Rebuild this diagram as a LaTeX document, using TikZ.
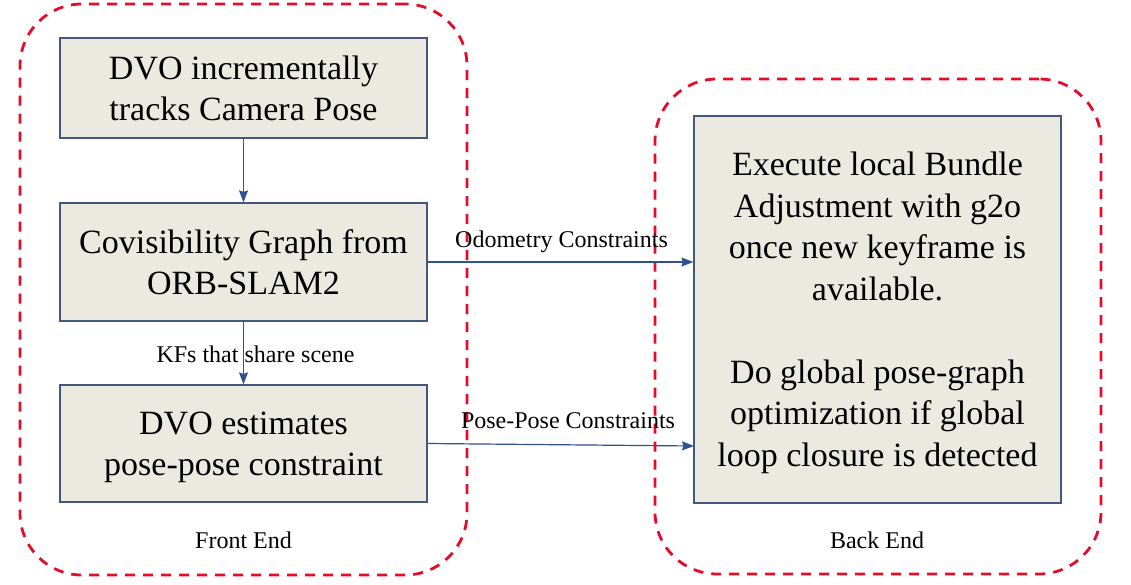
\documentclass[tikz,border=0pt]{standalone}
\usepackage{fontspec}
\setmainfont{Liberation Serif}
\usetikzlibrary{arrows.meta}
\definecolor{boxfill}{RGB}{236,233,224}
\definecolor{boxline}{RGB}{68,88,125}
\definecolor{arrowc}{RGB}{47,82,143}
\definecolor{dashred}{RGB}{228,12,40}
\newcommand\topstrut{\rule{0pt}{30pt}}
\newcommand\botstrut{\rule[-6pt]{0pt}{0pt}}
\begin{document}
\begin{tikzpicture}[x=1pt,y=-1pt,
  procbox/.style={draw=boxline, line width=1.2pt, fill=boxfill, inner sep=0pt,
    align=center, font=\fontsize{34}{41.5}\selectfont},
  groupbox/.style={draw=dashred, line width=2.8pt, dash pattern=on 10pt off 8pt,
    rounded corners=62pt, inner sep=0pt},
  lbl/.style={inner sep=0pt, font=\fontsize{24}{28.8}\selectfont, anchor=base},
  conn/.style={draw=arrowc, line width=1.2pt, -{Stealth[length=12pt,width=9pt,inset=1.5pt]}}
]
\useasboundingbox (0,0) rectangle (1131,584);
\fill[white] (0,0) rectangle (1131,584);

% group regions
\node[groupbox, minimum width=447pt, minimum height=571pt] (front) at (243.5,289.5) {};
\node[groupbox, minimum width=446pt, minimum height=495pt] (back) at (878,326.5) {};

% process boxes
\node[procbox, minimum width=367pt, minimum height=100pt] (b1) at (243.5,88)
  {\topstrut DVO incrementally\\tracks Camera Pose\botstrut};
\node[procbox, minimum width=367pt, minimum height=118pt] (b2) at (243.5,262)
  {\topstrut Covisibility Graph from\\ORB-SLAM2\botstrut};
\node[procbox, minimum width=367pt, minimum height=117pt] (b3) at (243.5,443.5)
  {\topstrut DVO estimates\\pose-pose constraint\botstrut};
\node[procbox, minimum width=367pt, minimum height=387pt] (b4) at (877.5,309.5)
  {\topstrut Execute local Bundle\\Adjustment with g2o\\once new keyframe is\\available.\\\mbox{}\\Do global pose-graph\\optimization if global\\loop closure is detected\botstrut};

% connectors
\coordinate (ppend) at (694,446);
\draw[conn] (b1) -- (b2);
\draw[conn] (b2) -- (b3);
\draw[conn] (b2.east) -- (b4.west |- b2.east);
\draw[conn] (b3.east) -- (ppend);

% labels
\node[lbl] (kf) at (255.5,362) {KFs that share scene};
\node[lbl] (odo) at (561.5,247) {Odometry Constraints};
\node[lbl] (pp) at (568,428) {Pose-Pose Constraints};
\node[lbl] (fe) at (243.5,548) {Front End};
\node[lbl] (be) at (877,548) {Back End};
\end{tikzpicture}
\end{document}
